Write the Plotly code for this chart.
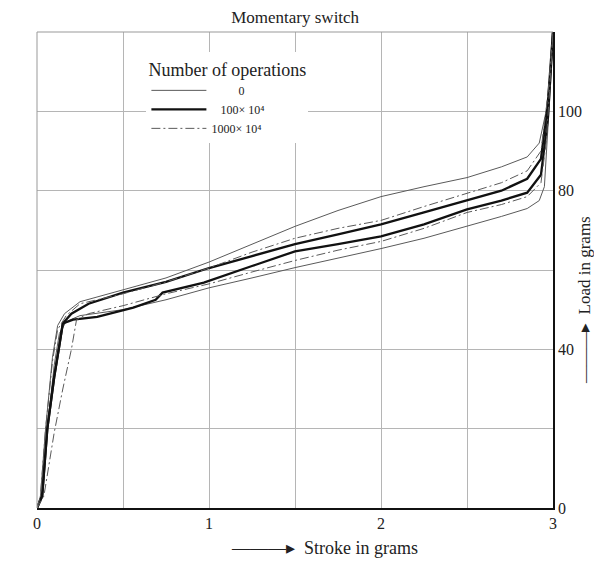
import plotly.graph_objects as go

# ---- data ----
# 0 operations (thin line): loading (upper) and unloading (lower)
thin_up_x = [0, 0.02, 0.05, 0.09, 0.12, 0.16, 0.25, 0.5, 0.75, 1.0, 1.25, 1.5, 1.75, 2.0, 2.25, 2.5, 2.7, 2.85, 2.92, 2.96, 2.99, 3.0]
thin_up_y = [0, 3, 20, 38, 46, 49, 52, 55, 58, 62, 66.5, 71, 75, 78.5, 81, 83.3, 86, 88.5, 92, 100, 112, 120]
thin_lo_x = [0, 0.03, 0.06, 0.1, 0.13, 0.17, 0.25, 0.5, 0.75, 1.0, 1.25, 1.5, 1.75, 2.0, 2.25, 2.5, 2.7, 2.85, 2.92, 2.95, 2.97, 2.99, 3.0]
thin_lo_y = [0, 4, 20, 36, 44, 47, 48.5, 50, 52.5, 55.5, 58, 60.6, 63, 65.4, 68, 71, 73.5, 75.5, 77.5, 81, 95, 110, 120]

# 100 x 10^4 operations (thick line)
thick_up_x = [0, 0.03, 0.06, 0.1, 0.13, 0.15, 0.2, 0.3, 0.5, 0.75, 1.0, 1.25, 1.5, 1.75, 2.0, 2.25, 2.5, 2.7, 2.85, 2.93, 2.97, 3.0]
thick_up_y = [0, 3, 20, 33, 41, 46.5, 49, 51.5, 54.3, 57, 60.5, 63.5, 66.5, 69, 71.5, 74.5, 77.5, 80, 83, 88, 102, 120]
thick_lo_x = [0, 0.03, 0.06, 0.1, 0.13, 0.15, 0.21, 0.35, 0.56, 0.69, 0.73, 0.97, 1.25, 1.5, 1.75, 2.0, 2.25, 2.5, 2.7, 2.85, 2.93, 2.97, 3.0]
thick_lo_y = [0, 3, 20, 33, 41, 46.5, 47.5, 48.2, 50.5, 52.5, 54.3, 56.8, 61, 64.7, 66.5, 68.5, 71.5, 75.3, 77.5, 79.5, 84, 98, 120]

# 1000 x 10^4 operations (dash-dot line)
dd_up_x = [0, 0.02, 0.05, 0.09, 0.12, 0.17, 0.25, 0.5, 0.75, 1.0, 1.25, 1.5, 1.75, 2.0, 2.25, 2.5, 2.7, 2.85, 2.93, 2.97, 3.0]
dd_up_y = [0, 3, 20, 37, 45, 48.5, 51.5, 54, 57, 60.5, 64.5, 68, 70.5, 72.5, 76, 79.3, 82, 85, 90, 104, 120]
dd_lo_x = [0, 0.04, 0.1, 0.15, 0.2, 0.23, 0.3, 0.5, 0.75, 1.0, 1.25, 1.5, 1.75, 2.0, 2.25, 2.5, 2.7, 2.85, 2.93, 2.96, 2.98, 3.0]
dd_lo_y = [0, 3, 19, 30, 40, 47.5, 49, 51, 54, 56.5, 59.5, 62.4, 65, 67.2, 70.5, 74.5, 76.5, 78.5, 82, 92, 105, 120]

series_names = ["0", "100\u00d7 10\u2074", "1000\u00d7 10\u2074"]

x_tickvals = [0, 0.5, 1, 1.5, 2, 2.5, 3]
x_ticktext = ["0", "", "1", "", "2", "", "3"]
y_tickvals = [0, 20, 40, 60, 80, 100, 120]
y_ticktext = ["0", "", "40", "", "80", "100", ""]

SERIF = "Liberation Serif, Times New Roman, serif"
NB = "\u00a0"

thin_style = dict(color="#5a5a5a", width=1)
thick_style = dict(color="#111111", width=2.3)
dd_style = dict(color="#5a5a5a", width=1, dash="9px,3px,2px,3px")

fig = go.Figure()
fig.add_trace(go.Scatter(x=thin_up_x, y=thin_up_y, mode="lines", line=thin_style,
                         name=NB * 9 + series_names[0], legendgroup="a"))
fig.add_trace(go.Scatter(x=thin_lo_x, y=thin_lo_y, mode="lines", line=thin_style,
                         showlegend=False, legendgroup="a"))
fig.add_trace(go.Scatter(x=thick_up_x, y=thick_up_y, mode="lines", line=thick_style,
                         name=NB * 3 + series_names[1], legendgroup="b"))
fig.add_trace(go.Scatter(x=thick_lo_x, y=thick_lo_y, mode="lines", line=thick_style,
                         showlegend=False, legendgroup="b"))
fig.add_trace(go.Scatter(x=dd_up_x, y=dd_up_y, mode="lines", line=dd_style,
                         name=series_names[2], legendgroup="c"))
fig.add_trace(go.Scatter(x=dd_lo_x, y=dd_lo_y, mode="lines", line=dd_style,
                         showlegend=False, legendgroup="c"))

fig.update_layout(
    width=602, height=561,
    margin=dict(l=29, r=57, t=24, b=61, autoexpand=False),
    paper_bgcolor="white", plot_bgcolor="white",
    font=dict(family=SERIF, size=14, color="#222"),
    title=dict(text="Momentary switch", x=0.477, xanchor="center", y=0.983, yanchor="middle",
               font=dict(family=SERIF, size=17, color="#222")),
    showlegend=True,
    legend=dict(x=0.212, y=0.957, xanchor="left", yanchor="top",
                bgcolor="white", borderwidth=0,
                itemwidth=55, tracegroupgap=0,
                title=dict(text="Number of operations", font=dict(family=SERIF, size=18, color="#222")),
                font=dict(family=SERIF, size=12, color="#222")),
    xaxis=dict(range=[0, 3], tickvals=x_tickvals, ticktext=x_ticktext, automargin=False,
               showgrid=True, gridcolor="#b5b5b5", gridwidth=0.8, zeroline=False,
               showline=True, linecolor="#111", linewidth=1.6, ticks="",
               tickfont=dict(family=SERIF, size=16, color="#222")),
    yaxis=dict(range=[0, 120], tickvals=y_tickvals, ticktext=y_ticktext, side="right",
               automargin=False,
               showgrid=True, gridcolor="#b5b5b5", gridwidth=0.8, zeroline=False,
               showline=True, linecolor="#111", linewidth=1.6, ticks="",
               tickfont=dict(family=SERIF, size=16, color="#222")),
)
# axis titles with their arrows
fig.add_annotation(text="\u2014\u2014\u2014\u25b8  Stroke in grams", xref="paper", yref="paper",
                   x=0.558, y=-0.084, xanchor="center", yanchor="middle", showarrow=False,
                   font=dict(family=SERIF, size=18, color="#222"))
fig.add_annotation(text="\u2014\u2014\u2014\u25b8  Load in grams", xref="paper", yref="paper",
                   x=1.062, y=0.437, xanchor="center", yanchor="middle", showarrow=False,
                   textangle=-90, font=dict(family=SERIF, size=17, color="#222"))
# left and top frame edges (thin gray like the grid)
fig.add_shape(type="line", xref="paper", yref="paper", x0=0, x1=0, y0=0, y1=1,
              line=dict(color="#999", width=1))
fig.add_shape(type="line", xref="paper", yref="paper", x0=0, x1=1, y0=1, y1=1,
              line=dict(color="#999", width=1))

fig.write_html("out.html")
